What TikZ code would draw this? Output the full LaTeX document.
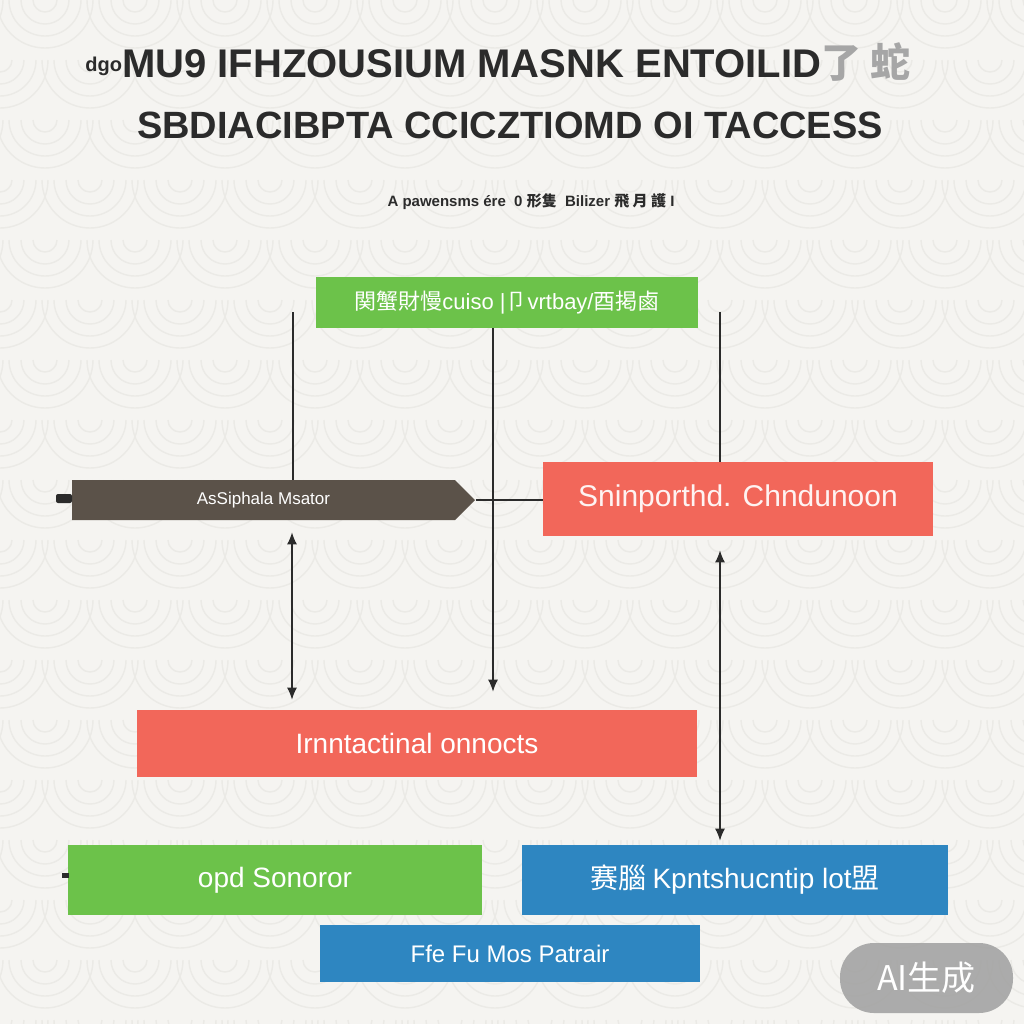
\documentclass[tikz,border=0pt]{standalone}
\usepackage{fontspec}
\setmainfont{Liberation Sans}
\newfontfamily\cjk{Noto Sans CJK SC}
\usetikzlibrary{arrows.meta,shapes.symbols}
\definecolor{bgc}{HTML}{F5F4F1}
\definecolor{swirl}{HTML}{EBEAE6}
\definecolor{grn}{HTML}{6CC24A}
\definecolor{redb}{HTML}{F2675A}
\definecolor{blub}{HTML}{2E86C1}
\definecolor{dark}{HTML}{5B5249}
\definecolor{ink}{HTML}{2B2B2B}
\tikzset{
  boxs/.style={rectangle, inner sep=0pt, text=white, align=center},
  conn/.style={draw=ink, line width=0.6pt},
  tip/.style={-{Latex[length=6pt,width=5pt]}},
  tips/.style={{Latex[length=6pt,width=5pt]}-{Latex[length=6pt,width=5pt]}},
}
\begin{document}
\begin{tikzpicture}[x=0.5pt,y=-0.5pt]
\useasboundingbox (0,0) rectangle (1024,1024);
\fill[bgc] (0,0) rectangle (1024,1024);
\begin{scope}
\clip (0,0) rectangle (1024,1024);
\foreach \yy [count=\i] in {0,60,...,1080} {
  \pgfmathsetmacro{\off}{mod(\i,2)*45}
  \foreach \xx in {-90,0,...,1080} {
    \foreach \r in {12,24,36,48} {
      \draw[swirl, line width=0.7pt] (\xx+\off-\r,\yy) arc[start angle=180, end angle=0, radius=\r];
    }
  }
}
\end{scope}

% titles
\node[text=ink, font=\bfseries\fontsize{20}{24}\selectfont] (t1) at (498,62)
  {\raisebox{3pt}{\fontsize{10}{12}\selectfont dgo}MU9 IFHZOUSIUM MASNK ENTOILID\textcolor{gray!70}{\cjk 了 蛇}};
\node[text=ink, font=\bfseries\fontsize{19}{24}\selectfont] (t2) at (510,125)
  {SBDIACIBPTA CCICZTIOMD OI TACCESS};
\node[text=ink, font=\bfseries\fontsize{7.5}{9}\selectfont] (t3) at (531,202)
  {A pawensms ére \ 0 {\cjk 形隻} \ Bilizer {\cjk 飛 月 護} I};

% boxes
\node[boxs, fill=grn, minimum width=191pt, minimum height=25.5pt, font=\fontsize{11}{13}\selectfont] (g1) at (507,302.5)
  {{\cjk 関蟹財慢}cuiso |{\cjk 卩}vrtbay/{\cjk 酉掲鹵}};
\node[signal, signal to=east, signal pointer angle=90, fill=dark, text=white, inner sep=0pt,
  minimum width=201.5pt, minimum height=20pt, font=\fontsize{8.5}{10}\selectfont] (dk) at (263.5,500)
  {AsSiphala Msator};
\node[boxs, fill=redb, minimum width=195pt, minimum height=37pt, text=white!92!redb, font=\fontsize{15}{18}\selectfont] (r1) at (738,499)
  {Sninporthd. Chndunoon};
\node[boxs, fill=redb, minimum width=280pt, minimum height=33.5pt, font=\fontsize{14}{17}\selectfont] (r2) at (417,743.5)
  {Irnntactinal onnocts};
\node[boxs, fill=grn, minimum width=207pt, minimum height=35pt, font=\fontsize{14}{17}\selectfont] (g2) at (275,880)
  {opd Sonoror};
\node[boxs, fill=blub, minimum width=213pt, minimum height=35pt, font=\fontsize{14}{17}\selectfont] (b1) at (735,880)
  {{\cjk 赛腦 }Kpntshucntip lot{\cjk 盟}};
\node[boxs, fill=blub, minimum width=190pt, minimum height=28.5pt, font=\fontsize{12}{14}\selectfont] (b2) at (510,953.5)
  {Ffe Fu Mos Patrair};

% small dark tabs
\fill[ink, rounded corners=1pt] (56,494) rectangle (72,503);
\fill[ink] (62,873) rectangle (69,878);

% connectors
\coordinate (c1) at (293,312);
\coordinate (c3) at (720,312);
\draw[conn] (c1) -- (c1 |- dk.north);
\draw[conn] (c3) -- (c3 |- r1.north);
\draw[conn, tip, shorten >=9pt] (g1.south -| 493,0) -- (493,0 |- r2.north);
\draw[conn] (dk.east) -- (dk.east -| r1.west);
\draw[conn, tips, shorten <=6pt, shorten >=5pt] (292,0 |- dk.south) -- (292,0 |- r2.north);
\draw[conn, tips, shorten <=7pt, shorten >=2pt] (720,0 |- r1.south) -- (720,0 |- b1.north);

% badge
\node[rectangle, rounded corners=17pt, fill=gray!75, fill opacity=0.85, text opacity=1, text=white,
  minimum width=86.5pt, minimum height=35pt, font=\fontsize{17}{20}\selectfont\cjk] (ai) at (926.5,978) {AI生成};
\end{tikzpicture}
\end{document}
